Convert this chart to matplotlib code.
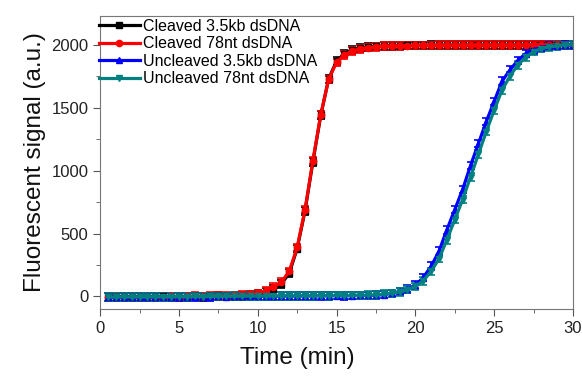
import numpy as np
import matplotlib.pyplot as plt

plt.rcParams['font.family'] = ['Liberation Sans', 'DejaVu Sans']

# time points (min), one read every 30 s: 0.5 ... 30
time = np.arange(1, 61) * 0.5

# each row = 10 reads (5 min)
cleaved_35kb = [-2, -5, -3, -1, -4, -2, -3, 0, -2, -1,
                -3, 1, -2, 0, 2, 1, 3, 5, 10, 18,
                35, 60, 100, 185, 380, 680, 1070, 1440, 1730, 1870,
                1930, 1960, 1975, 1982, 1987, 1990, 1992, 1993, 1994, 1995,
                1995, 1996, 1996, 1997, 1997, 1997, 1998, 1998, 1998, 1998,
                1999, 1999, 1999, 1999, 2000, 2000, 2000, 2000, 2000, 2000]
cleaved_78nt = [-4, -3, -5, -2, -3, -1, -2, -1, 0, -2,
                0, 2, 1, 3, 4, 6, 8, 10, 16, 25,
                45, 75, 115, 200, 390, 690, 1080, 1445, 1725, 1860,
                1920, 1950, 1968, 1978, 1984, 1988, 1990, 1992, 1993, 1994,
                1995, 1995, 1996, 1996, 1997, 1997, 1997, 1998, 1998, 1998,
                1999, 1999, 1999, 1999, 2000, 2000, 2000, 2000, 2000, 2000]
uncleaved_35kb = [-6, -7, -5, -6, -4, -5, -3, -4, -2, -3,
                  -2, -3, -1, -2, 0, -1, 0, 1, 0, 2,
                  1, 3, 2, 4, 3, 5, 4, 6, 5, 7,
                  6, 7, 8, 8, 10, 15, 25, 40, 60, 90,
                  150, 240, 360, 530, 690, 850, 1040, 1215, 1390, 1550,
                  1710, 1800, 1875, 1930, 1960, 1978, 1988, 1993, 1997, 2000]
uncleaved_78nt = [-4, -6, -3, -5, -3, -4, -2, -3, -2, -1,
                  -2, 0, -1, 0, 1, 0, 2, 1, 3, 2,
                  3, 4, 3, 5, 4, 6, 5, 7, 6, 8,
                  7, 8, 9, 10, 12, 18, 25, 35, 55, 80,
                  125, 200, 300, 450, 610, 770, 950, 1130, 1310, 1480,
                  1640, 1750, 1840, 1900, 1945, 1970, 1982, 1990, 1995, 2000]
err = 30

series = [
    ('Cleaved 3.5kb dsDNA', cleaved_35kb, 'black', 's'),
    ('Cleaved 78nt dsDNA', cleaved_78nt, '#ff0000', 'o'),
    ('Uncleaved 3.5kb dsDNA', uncleaved_35kb, '#0000ff', '^'),
    ('Uncleaved 78nt dsDNA', uncleaved_78nt, '#008080', 'v'),
]

fig = plt.figure(figsize=(5.82, 3.76), dpi=100)
ax = fig.add_axes([0.172, 0.178, 0.8125, 0.78])

handles = []
for label, vals, color, marker in series:
    c = ax.errorbar(time, vals, yerr=err, color=color, marker=marker, markersize=4.5,
                    linewidth=2.3, elinewidth=1.2, capsize=3, capthick=1.2, label=label)
    handles.append(c.lines[0])

ax.set_xlim(0, 30)
ax.set_ylim(-100, 2230)
ax.set_xticks([0, 5, 10, 15, 20, 25, 30])
ax.set_xticks(np.arange(2.5, 30, 5), minor=True)
ax.set_yticks([0, 500, 1000, 1500, 2000])
ax.set_yticks(np.arange(250, 2100, 500), minor=True)
ax.tick_params(which='both', direction='out', colors='#555555', labelcolor='#222222',
               labelsize=12)
ax.tick_params(which='major', length=5)
ax.tick_params(which='minor', length=3)
for s in ax.spines.values():
    s.set_color('#777777')

ax.set_xlabel('Time (min)', fontsize=17.5, color='#111111')
ax.xaxis.set_label_coords(0.417, -0.13)
ax.set_ylabel('Fluorescent signal (a.u.)', fontsize=17.5, color='#111111', labelpad=4)

leg = ax.legend(handles, [s[0] for s in series], loc='upper left',
                bbox_to_anchor=(-0.01, 1.0), frameon=False,
                fontsize=11.5, handlelength=2.6, handletextpad=0.2,
                labelspacing=0.15, borderaxespad=0.1, borderpad=0.1)

fig.savefig('out.png', dpi=100)
